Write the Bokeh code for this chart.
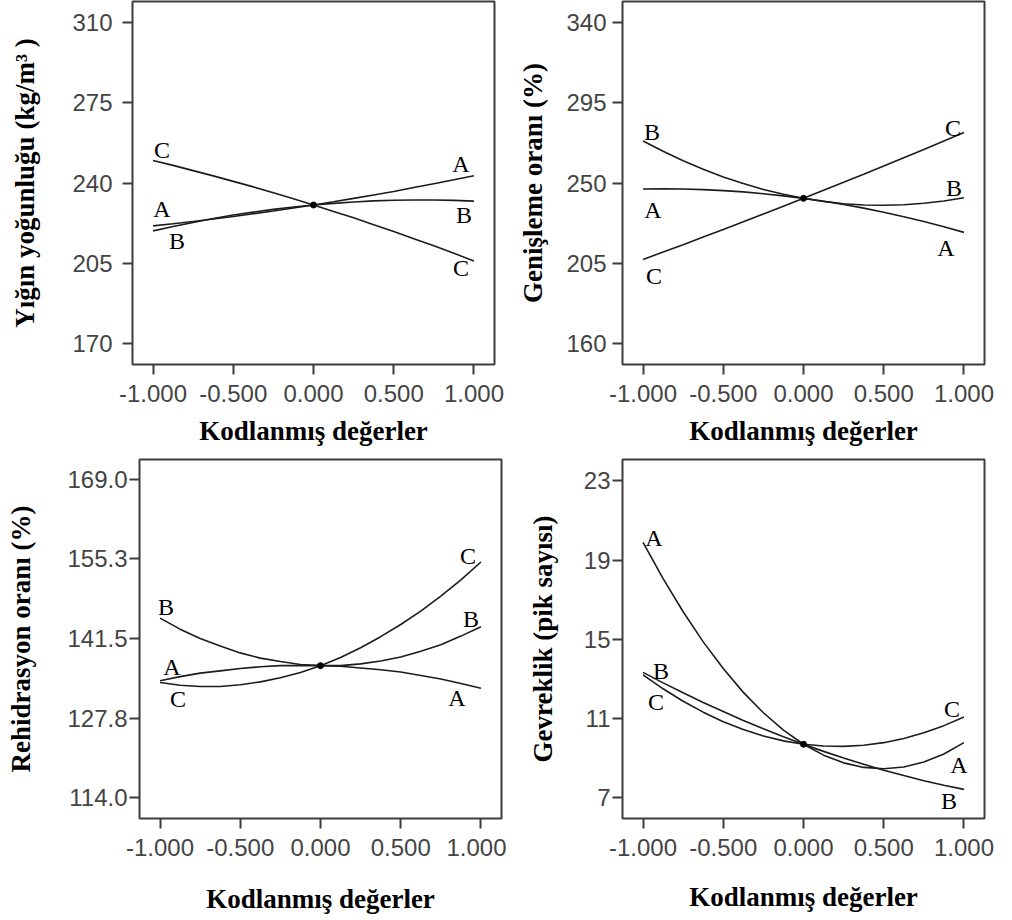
from bokeh.plotting import figure
from bokeh.layouts import column, row
from bokeh.models import FixedTicker, Range1d
from bokeh.embed import file_html
from bokeh.resources import INLINE
from bokeh.core.properties import value

# ---------------- data ----------------
x_coded = [-1.0, -0.875, -0.75, -0.625, -0.5, -0.375, -0.25, -0.125, 0.0,
           0.125, 0.25, 0.375, 0.5, 0.625, 0.75, 0.875, 1.0]
x_ticks = [-1.0, -0.5, 0.0, 0.5, 1.0]
x_tick_labels = ["-1.000", "-0.500", "0.000", "0.500", "1.000"]
x_title = "Kodlanmış değerler"

# Yığın yoğunluğu
bulk_A = [221.3, 222.2, 223.2, 224.3, 225.4, 226.6, 227.8, 229.1, 230.4,
          231.8, 233.3, 234.8, 236.3, 238.0, 239.7, 241.4, 243.2]
bulk_B = [219.1, 221.0, 222.8, 224.5, 226.0, 227.3, 228.5, 229.5, 230.4,
          231.1, 231.7, 232.2, 232.5, 232.6, 232.6, 232.4, 232.1]
bulk_C = [249.8, 247.7, 245.4, 243.1, 240.7, 238.3, 235.7, 233.1, 230.4,
          227.6, 224.8, 221.8, 218.8, 215.7, 212.6, 209.3, 206.0]
bulk_ticks = [170, 205, 240, 275, 310]
bulk_tick_labels = ["170", "205", "240", "275", "310"]
bulk_title = "Yığın yoğunluğu (kg/m³ )"

# Genişleme oranı
exp_A = [246.6, 246.7, 246.6, 246.3, 245.7, 245.0, 244.0, 242.8, 241.4,
         239.8, 237.9, 235.9, 233.6, 231.1, 228.4, 225.5, 222.3]
exp_B = [273.6, 267.8, 262.5, 257.7, 253.4, 249.7, 246.4, 243.7, 241.4,
         239.7, 238.4, 237.7, 237.5, 237.8, 238.6, 239.9, 241.7]
exp_C = [207.1, 211.3, 215.4, 219.7, 223.9, 228.2, 232.6, 237.0, 241.4,
         245.9, 250.4, 254.9, 259.5, 264.2, 268.8, 273.6, 278.3]
exp_ticks = [160, 205, 250, 295, 340]
exp_tick_labels = ["160", "205", "250", "295", "340"]
exp_title = "Genişleme oranı (%)"

# Rehidrasyon oranı
reh_A = [134.2, 134.9, 135.5, 135.9, 136.3, 136.6, 136.8, 136.8, 136.8,
         136.7, 136.4, 136.1, 135.7, 135.1, 134.5, 133.7, 132.9]
reh_B = [145.0, 143.1, 141.5, 140.2, 139.0, 138.1, 137.5, 137.0, 136.8,
         136.8, 137.1, 137.6, 138.3, 139.3, 140.4, 141.9, 143.5]
reh_C = [133.9, 133.4, 133.2, 133.2, 133.5, 134.0, 134.7, 135.6, 136.8,
         138.2, 139.9, 141.8, 143.9, 146.2, 148.8, 151.6, 154.7]
reh_ticks = [114.0, 127.75, 141.5, 155.25, 169.0]
reh_tick_labels = ["114.0", "127.8", "141.5", "155.3", "169.0"]
reh_title = "Rehidrasyon oranı (%)"

# Gevreklik
gev_A = [19.9, 18.06, 16.39, 14.87, 13.52, 12.32, 11.29, 10.41, 9.7,
         9.15, 8.76, 8.53, 8.46, 8.55, 8.80, 9.21, 9.78]
gev_B = [13.33, 12.80, 12.30, 11.81, 11.35, 10.90, 10.48, 10.08, 9.7,
         9.34, 9.00, 8.69, 8.39, 8.12, 7.86, 7.63, 7.42]
gev_C = [13.2, 12.50, 11.87, 11.32, 10.84, 10.44, 10.12, 9.87, 9.7,
         9.61, 9.59, 9.65, 9.78, 9.99, 10.28, 10.64, 11.08]
gev_ticks = [7, 11, 15, 19, 23]
gev_tick_labels = ["7", "11", "15", "19", "23"]
gev_title = "Gevreklik (pik sayısı)"

factor_names = ["A", "B", "C"]

# ---------------- styling ----------------
LINE = "#1c1c1c"
FRAME = "#3c3c3c"
TICK_TXT = "#444444"
SERIF = "Liberation Serif"
SANS = "Liberation Sans"
CENTER = 8  # index of the coded value 0.000


def make_panel(series, y_range, yticks, ylabels, ytitle, w, h, borders,
               label_offsets, ylab_standoff, xlab_standoff, ytick_standoff):
    left, right, top, bottom = borders
    p = figure(width=w, height=h, output_backend="svg", toolbar_location=None,
               x_range=Range1d(-1.128, 1.128), y_range=Range1d(*y_range),
               min_border_left=left, min_border_right=right,
               min_border_top=top, min_border_bottom=bottom,
               background_fill_color="white", border_fill_color="white")
    p.xgrid.visible = False
    p.ygrid.visible = False
    p.outline_line_color = FRAME
    p.outline_line_width = 2

    for ax in (p.xaxis[0], p.yaxis[0]):
        ax.axis_line_color = None
        ax.major_tick_line_color = FRAME
        ax.major_tick_line_width = 2
        ax.major_tick_out = 10
        ax.major_tick_in = 0
        ax.minor_tick_line_color = None
        ax.major_label_text_font = SANS
        ax.major_label_text_font_size = "24px"
        ax.major_label_text_color = TICK_TXT
        ax.axis_label_text_font = SERIF
        ax.axis_label_text_font_size = "27px"
        ax.axis_label_text_font_style = "bold"
        ax.axis_label_text_color = "black"

    p.xaxis.ticker = FixedTicker(ticks=x_ticks)
    p.xaxis.major_label_overrides = dict(zip(x_ticks, x_tick_labels))
    p.xaxis.axis_label = x_title
    p.xaxis.major_label_standoff = 10
    p.xaxis.axis_label_standoff = xlab_standoff

    p.yaxis.ticker = FixedTicker(ticks=yticks)
    p.yaxis.major_label_overrides = dict(zip(yticks, ylabels))
    p.yaxis.axis_label = ytitle
    p.yaxis.major_label_standoff = ytick_standoff
    p.yaxis.axis_label_standoff = ylab_standoff

    for name in factor_names:
        p.line(x_coded, series[name], line_color=LINE, line_width=1.6)

    # centre point
    p.scatter([x_coded[CENTER]], [series["A"][CENTER]], size=6, color="black")

    # factor letters next to the curve ends
    lx, ly, lt, ox, oy = [], [], [], [], []
    for (name, end), (dx, dy) in label_offsets.items():
        idx = 0 if end == "L" else -1
        lx.append(x_coded[idx])
        ly.append(series[name][idx])
        lt.append(name)
        ox.append(dx)
        oy.append(dy)
    p.text(x=lx, y=ly, text=lt, x_offset=ox, y_offset=oy,
           text_align="center", text_baseline="middle",
           text_font=value(SERIF), text_font_size="24px", text_color="black")
    return p


p1 = make_panel({"A": bulk_A, "B": bulk_B, "C": bulk_C}, (160.8, 319.2),
                bulk_ticks, bulk_tick_labels, bulk_title, 506, 452,
                (132, 12, 1, 87),
                {("C", "L"): (9, -11), ("A", "L"): (9, -17), ("B", "L"): (24, 10),
                 ("A", "R"): (-13, -12), ("B", "R"): (-10, 14), ("C", "R"): (-13, 7)},
                29, 11, 10)
p2 = make_panel({"A": exp_A, "B": exp_B, "C": exp_C}, (148.2, 351.8),
                exp_ticks, exp_tick_labels, exp_title, 506, 452,
                (116, 28, 1, 88),
                {("B", "L"): (9, -9), ("A", "L"): (10, 21), ("C", "L"): (11, 17),
                 ("C", "R"): (-11, -5), ("B", "R"): (-10, -10), ("A", "R"): (-18, 16)},
                15, 11, 6)
p3 = make_panel({"A": reh_A, "B": reh_B, "C": reh_C}, (110.4, 172.4),
                reh_ticks, reh_tick_labels, reh_title, 506, 468,
                (139, 5, 7, 97),
                {("B", "L"): (6, -11), ("A", "L"): (12, -14), ("C", "L"): (18, 17),
                 ("C", "R"): (-13, -6), ("B", "R"): (-10, -8), ("A", "R"): (-24, 10)},
                28, 25, 2)
p4 = make_panel({"A": gev_A, "B": gev_B, "C": gev_C}, (5.95, 24.08),
                gev_ticks, gev_tick_labels, gev_title, 506, 468,
                (116, 28, 3, 102),
                {("A", "L"): (11, -4), ("B", "L"): (18, -1), ("C", "L"): (13, 27),
                 ("C", "R"): (-12, -8), ("A", "R"): (-5, 22), ("B", "R"): (-15, 12)},
                23, 23, 2)

layout = column(row(p1, p2), row(p3, p4))
open("out.html", "w").write(file_html(layout, INLINE))
